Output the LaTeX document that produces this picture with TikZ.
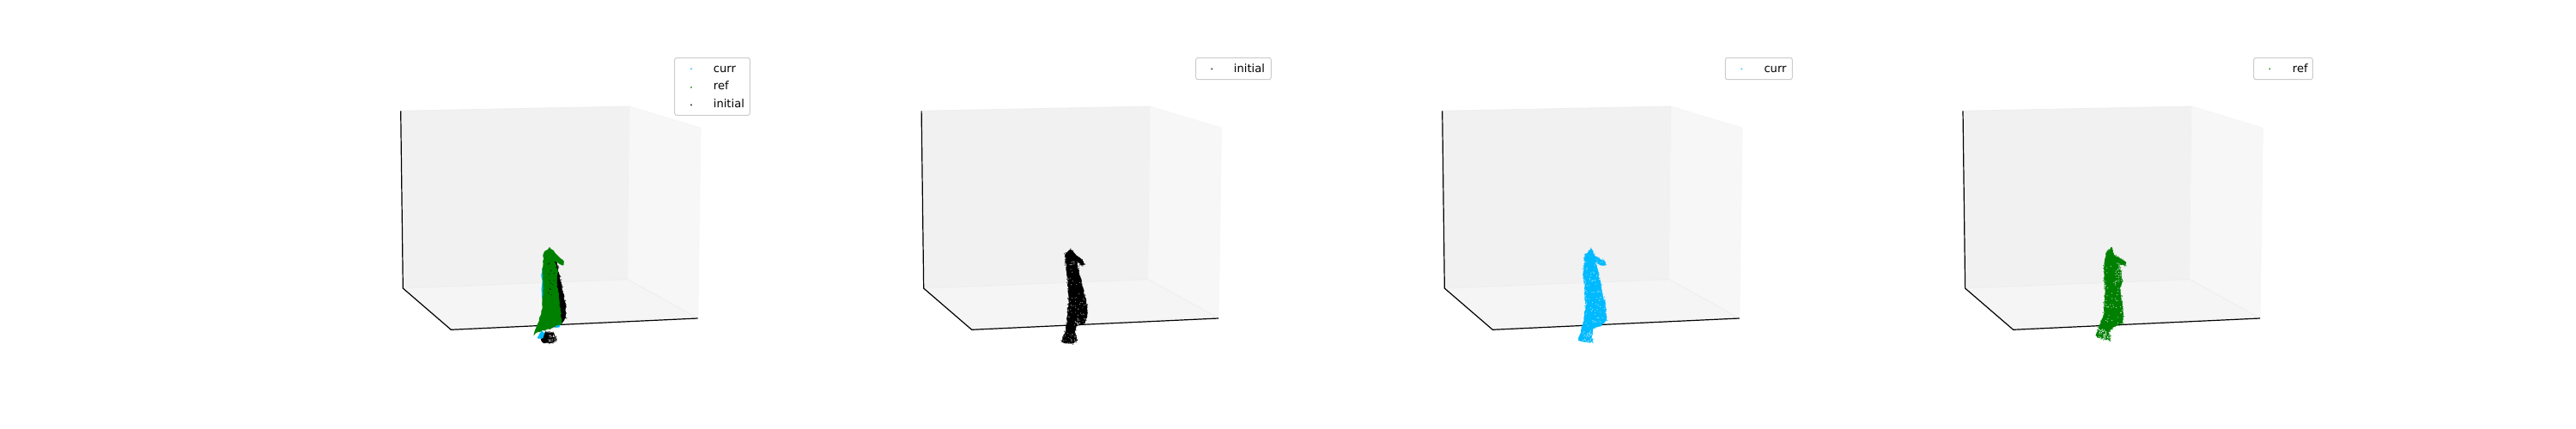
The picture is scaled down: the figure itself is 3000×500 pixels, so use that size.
\documentclass[tikz,border=0pt]{standalone}
\usepackage{fontspec}
\setmainfont{DejaVu Sans}
\usetikzlibrary{decorations.pathmorphing,decorations.markings}
\definecolor{curcol}{HTML}{00BAFF}
\definecolor{refcol}{HTML}{008000}
\tikzset{
  x=1pt,y=-1pt,
  backwall/.style={fill=black!5.5,draw=black!7,line width=.8pt},
  rightwall/.style={fill=black!3,draw=black!3.5,line width=.8pt},
  floorpane/.style={fill=black!4,draw=black!6.5,line width=.8pt},
  axisline/.style={draw=black,line width=1.2pt},
  cloudbody/.style={fill=#1,draw=#1,line width=.3pt,line join=round,decorate,decoration={random steps,segment length=3pt,amplitude=.7pt}},
  cloudedge/.style={postaction={decorate},decoration={markings,mark=between positions 0 and 1 step 2.2pt with {\fill[#1,opacity=.7] ({3.5*rand},{3.5*rand}) circle (.8pt);}}},
  legendbox/.style={draw=black!20,line width=1pt,rounded corners=2.5pt,fill=white,fill opacity=.85},
  legendtext/.style={anchor=base west,inner sep=0pt,font=\fontsize{13.1}{15}\selectfont,text=black},
  legendmark/.style={fill=#1,fill opacity=.8,draw=none,circle,inner sep=0pt,minimum size=2.2pt},
}
\newcommand{\paneBox}[1]{%
\begin{scope}[xshift=#1pt]
  \draw[backwall] (466.7,129.3) -- (733.3,124) -- (731,325.7) -- (469.3,336) -- cycle;
  \draw[rightwall] (733.3,124) -- (816,149) -- (812.7,371) -- (731,325.7) -- cycle;
  \draw[floorpane] (469.3,336) -- (731,325.7) -- (812.7,371) -- (525.3,384.3) -- cycle;
  \coordinate (tl) at (466.7,129.3);
  \coordinate (bl) at (469.3,336);
  \coordinate (fl) at (525.3,384.3);
  \coordinate (fr) at (812.7,371);
  \draw[axisline] (tl) -- (bl) -- (fl) -- (fr);
\end{scope}}
% solid silhouette with rough, dotted outline: colour, path
\newcommand{\cloudShape}[2]{%
  \draw[cloudbody=#1] #2;
  \path[cloudedge=#1] #2;}
% n light specks in a box: colour, n, xmin, xmax, ymin, ymax
\newcommand{\specks}[6]{%
  \foreach \k in {1,...,#2}{%
    \pgfmathsetmacro{\px}{#3+rnd*(#4-#3)}%
    \pgfmathsetmacro{\py}{#5+rnd*(#6-#5)}%
    \fill[#1] (\px,\py) circle (1.8);}}
\newcommand{\pathInit}{(110,62) -- (155,105) -- (158,115) -- (148,118) -- (130,100) -- (145,160) -- (150,190) -- (165,240) -- (168,290) -- (160,320) -- (145,325) -- (130,330) -- (125,350) -- (135,380) -- (120,390) -- (90,390) -- (80,385) -- (95,340) -- (100,290) -- (105,230) -- (100,170) -- (95,130) -- (92,80) -- cycle}
\newcommand{\pathCurr}{(100,60) -- (112,85) -- (148,105) -- (148,118) -- (135,118) -- (112,105) -- (125,150) -- (135,200) -- (150,260) -- (152,310) -- (130,330) -- (105,340) -- (100,370) -- (105,385) -- (75,385) -- (55,380) -- (75,310) -- (80,250) -- (72,140) -- (78,80) -- cycle}
\newcommand{\pathRef}{(87,55) -- (95,80) -- (138,108) -- (135,118) -- (115,115) -- (125,170) -- (115,200) -- (125,250) -- (127,320) -- (100,330) -- (80,345) -- (82,382) -- (60,375) -- (40,370) -- (32,362) -- (60,290) -- (65,200) -- (60,130) -- (68,75) -- cycle}
\begin{document}
\begin{tikzpicture}
\pgfmathsetseed{4242}
\useasboundingbox (0,0) rectangle (3000,500);
\fill[white] (0,0) rectangle (3000,500);
\paneBox{0}
\paneBox{606.4}
\paneBox{1213}
\paneBox{1819.3}

% panel 1: overlaid clouds
\begin{scope}[shift={(590,270)},x=0.3333pt,y=-0.3333pt]
  \cloudShape{black}{(160,70) -- (175,110) -- (190,180) -- (205,250) -- (207,300) -- (190,322) -- (150,340) -- (150,200) -- cycle}
  \cloudShape{black}{(120,378) -- (135,350) -- (165,355) -- (175,378) -- (160,388) -- (130,390) -- cycle}
  \specks{black!45}{30}{145}{176}{362}{385}
  \specks{white}{10}{145}{176}{362}{385}
  \cloudShape{curcol}{(108,372) -- (122,348) -- (132,355) -- (126,372) -- cycle}
  \draw[cloudbody=curcol] (124,130) -- (128,130) -- (128,230) -- (123,230) -- cycle;
  \draw[cloudbody=curcol] (170,325) -- (190,320) -- (185,333) -- (172,336) -- cycle;
  \draw[cloudbody=refcol] (150,55) -- (200,105) -- (198,118) -- (165,102) -- (178,135) -- (175,175) -- (185,250) -- (192,322) -- (168,330) -- (150,340) -- (110,350) -- (95,362) -- (110,320) -- (125,270) -- (128,200) -- (125,130) -- (130,75) -- cycle;
  \specks{black}{14}{145}{178}{110}{230}
\end{scope}

% panel 2: initial
\begin{scope}[shift={(1210,270)},x=0.3333pt,y=-0.3333pt]
  \cloudShape{black}{\pathInit}
  \begin{scope}
    \clip \pathInit;
    \specks{black!45}{12}{108}{125}{98}{118}
    \specks{black!45}{60}{100}{168}{130}{330}
    \specks{black!55}{40}{85}{135}{355}{390}
    \specks{white}{14}{128}{165}{300}{330}
  \end{scope}
\end{scope}

% panel 3: curr
\begin{scope}[shift={(1820,270)},x=0.3333pt,y=-0.3333pt]
  \cloudShape{curcol}{\pathCurr}
  \begin{scope}
    \clip \pathCurr;
    \specks{curcol!30}{90}{75}{150}{90}{330}
    \specks{curcol!30}{35}{70}{110}{345}{385}
  \end{scope}
\end{scope}

% panel 4: ref
\begin{scope}[shift={(2430,270)},x=0.3333pt,y=-0.3333pt]
  \cloudShape{refcol}{\pathRef}
  \begin{scope}
    \clip \pathRef;
    \specks{refcol!25}{30}{100}{125}{110}{180}
    \specks{refcol!25}{50}{62}{127}{120}{320}
    \specks{white}{60}{42}{85}{340}{385}
  \end{scope}
\end{scope}

% legends
\draw[legendbox] (785.7,67.3) rectangle (873.3,134.3);
\node[legendmark=curcol] (m1a) at (805,80.3) {};
\node[legendmark=refcol] (m1b) at (805,101.7) {};
\node[legendmark=black] (m1c) at (805,122.3) {};
\node[legendtext] (t1a) at (830.7,84.5) {curr};
\node[legendtext] (t1b) at (830.7,104.5) {ref};
\node[legendtext] (t1c) at (830.7,125) {initial};

\draw[legendbox] (1392.7,67.3) rectangle (1480.3,92.7);
\node[legendmark=black] (m2) at (1411.3,80.3) {};
\node[legendtext] (t2) at (1436.7,84.5) {initial};

\draw[legendbox] (2009.3,67.3) rectangle (2087.3,92.7);
\node[legendmark=curcol] (m3) at (2028.3,80.3) {};
\node[legendtext] (t3) at (2054.3,84.5) {curr};

\draw[legendbox] (2624.7,67.3) rectangle (2693.3,92.7);
\node[legendmark=refcol] (m4) at (2643.3,80.3) {};
\node[legendtext] (t4) at (2669.7,84.5) {ref};
\end{tikzpicture}
\end{document}
